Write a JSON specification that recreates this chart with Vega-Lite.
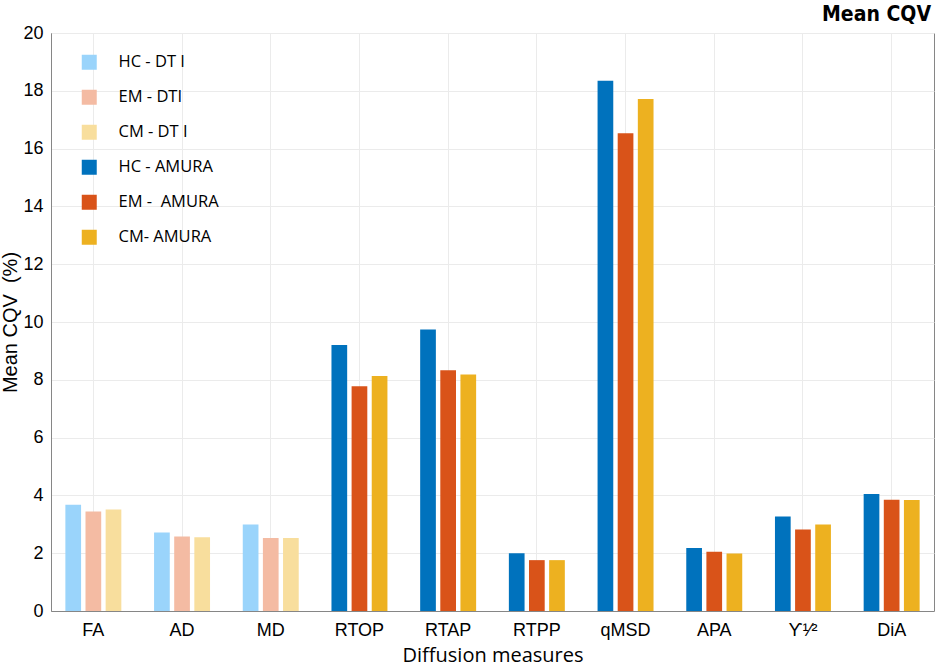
{
  "$schema": "https://vega.github.io/schema/vega-lite/v6.json",
  "width": 883,
  "height": 578,
  "autosize": {"type": "none"},
  "padding": {"left": 51, "top": 33, "right": 1, "bottom": 58},
  "background": "white",
  "title": {
    "text": "Mean CQV",
    "anchor": "end",
    "frame": "group",
    "font": "DejaVu Sans Condensed, DejaVu Sans, sans-serif",
    "fontWeight": "bold",
    "fontSize": 21,
    "baseline": "bottom",
    "offset": 0,
    "dy": 22,
    "dx": -3,
    "color": "#000000"
  },
  "config": {
    "view": {"stroke": "#868686", "strokeWidth": 1},
    "axis": {
      "domainColor": "#868686",
      "gridColor": "#ebebeb",
      "gridOpacity": 1,
      "labelColor": "#000000",
      "titleColor": "#000000",
      "ticks": false
    }
  },
  "data": {
    "values": [
      {"measure": "FA", "subject": "HC", "series": "HC - DT I", "value": 3.68},
      {"measure": "FA", "subject": "EM", "series": "EM - DTI", "value": 3.44},
      {"measure": "FA", "subject": "CM", "series": "CM - DT I", "value": 3.51},
      {"measure": "AD", "subject": "HC", "series": "HC - DT I", "value": 2.72},
      {"measure": "AD", "subject": "EM", "series": "EM - DTI", "value": 2.58},
      {"measure": "AD", "subject": "CM", "series": "CM - DT I", "value": 2.55},
      {"measure": "MD", "subject": "HC", "series": "HC - DT I", "value": 2.99},
      {"measure": "MD", "subject": "EM", "series": "EM - DTI", "value": 2.53},
      {"measure": "MD", "subject": "CM", "series": "CM - DT I", "value": 2.53},
      {"measure": "RTOP", "subject": "HC", "series": "HC - AMURA", "value": 9.2},
      {"measure": "RTOP", "subject": "EM", "series": "EM -\u00a0 AMURA", "value": 7.78},
      {"measure": "RTOP", "subject": "CM", "series": "CM- AMURA", "value": 8.13},
      {"measure": "RTAP", "subject": "HC", "series": "HC - AMURA", "value": 9.74},
      {"measure": "RTAP", "subject": "EM", "series": "EM -\u00a0 AMURA", "value": 8.33},
      {"measure": "RTAP", "subject": "CM", "series": "CM- AMURA", "value": 8.18},
      {"measure": "RTPP", "subject": "HC", "series": "HC - AMURA", "value": 2.0},
      {"measure": "RTPP", "subject": "EM", "series": "EM -\u00a0 AMURA", "value": 1.76},
      {"measure": "RTPP", "subject": "CM", "series": "CM- AMURA", "value": 1.76},
      {"measure": "qMSD", "subject": "HC", "series": "HC - AMURA", "value": 18.35},
      {"measure": "qMSD", "subject": "EM", "series": "EM -\u00a0 AMURA", "value": 16.53},
      {"measure": "qMSD", "subject": "CM", "series": "CM- AMURA", "value": 17.72},
      {"measure": "APA", "subject": "HC", "series": "HC - AMURA", "value": 2.18},
      {"measure": "APA", "subject": "EM", "series": "EM -\u00a0 AMURA", "value": 2.05},
      {"measure": "APA", "subject": "CM", "series": "CM- AMURA", "value": 1.99},
      {"measure": "ϒ¹⁄²", "subject": "HC", "series": "HC - AMURA", "value": 3.27},
      {"measure": "ϒ¹⁄²", "subject": "EM", "series": "EM -\u00a0 AMURA", "value": 2.82},
      {"measure": "ϒ¹⁄²", "subject": "CM", "series": "CM- AMURA", "value": 2.99},
      {"measure": "DiA", "subject": "HC", "series": "HC - AMURA", "value": 4.05},
      {"measure": "DiA", "subject": "EM", "series": "EM -\u00a0 AMURA", "value": 3.85},
      {"measure": "DiA", "subject": "CM", "series": "CM- AMURA", "value": 3.84}
    ]
  },
  "mark": {"type": "bar"},
  "encoding": {
    "x": {
      "field": "measure",
      "type": "nominal",
      "sort": ["FA", "AD", "MD", "RTOP", "RTAP", "RTPP", "qMSD", "APA", "ϒ¹⁄²", "DiA"],
      "scale": {"paddingInner": 0.369, "paddingOuter": 0.162, "align": 0.5},
      "axis": {
        "title": "Diffusion measures",
        "titleFont": "Open Sans",
        "titleFontSize": 20,
        "titleFontWeight": "normal",
        "titlePadding": 6,
        "labelFont": "Liberation Sans",
        "labelFontSize": 18,
        "labelPadding": 10,
        "labelAngle": 0,
        "grid": true,
        "bandPosition": 0.5
      }
    },
    "xOffset": {
      "field": "subject",
      "type": "nominal",
      "sort": ["HC", "EM", "CM"],
      "scale": {"paddingInner": 0.22, "paddingOuter": 0}
    },
    "y": {
      "field": "value",
      "type": "quantitative",
      "scale": {"domain": [0, 20], "nice": false},
      "axis": {
        "title": "Mean CQV\u00a0\u00a0(%)",
        "titleFont": "Liberation Sans",
        "titleFontSize": 20,
        "titleFontWeight": "normal",
        "titlePadding": 2,
        "labelFont": "Liberation Sans",
        "labelFontSize": 18,
        "labelPadding": 8,
        "values": [0, 2, 4, 6, 8, 10, 12, 14, 16, 18, 20]
      }
    },
    "color": {
      "field": "series",
      "type": "nominal",
      "scale": {
        "domain": ["HC - DT I", "EM - DTI", "CM - DT I", "HC - AMURA", "EM -\u00a0 AMURA", "CM- AMURA"],
        "range": ["#9AD4FB", "#F4BBA3", "#F8DE9D", "#0072BD", "#D95319", "#EDB120"]
      },
      "legend": {
        "title": null,
        "orient": "none",
        "legendX": 30,
        "legendY": 21,
        "padding": 0,
        "symbolType": "square",
        "symbolSize": 225,
        "symbolStrokeWidth": 0,
        "symbolOpacity": 1,
        "labelFont": "Open Sans",
        "labelFontSize": 16.5,
        "labelColor": "#000000",
        "labelOffset": 21,
        "rowPadding": 18
      }
    }
  }
}
